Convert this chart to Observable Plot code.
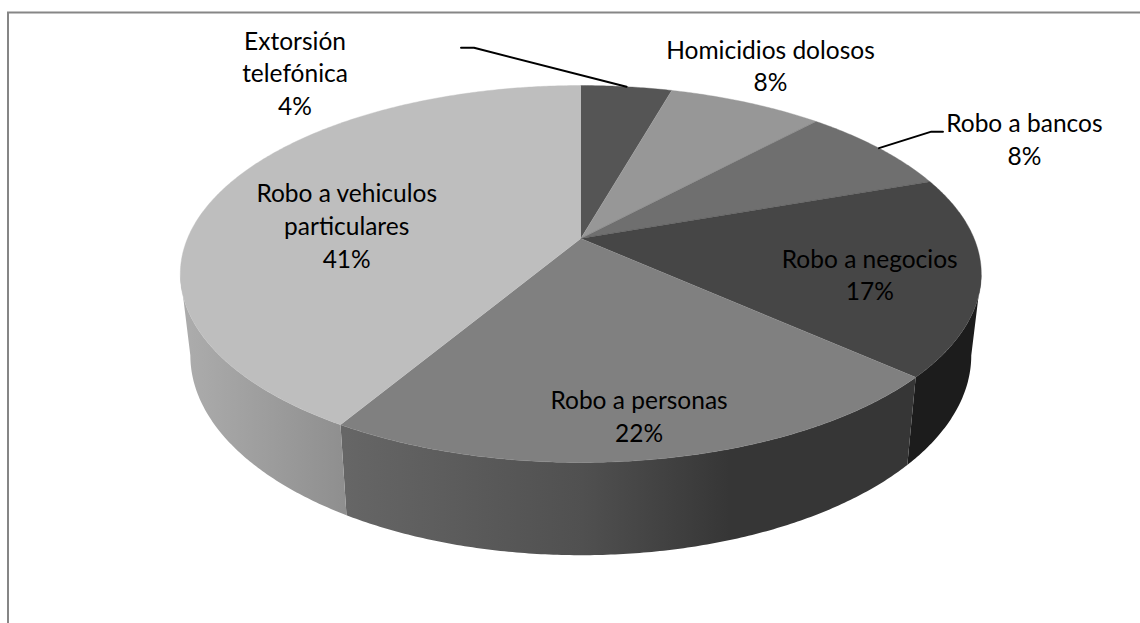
<!DOCTYPE html>
<html><head><meta charset="utf-8">
<script src="https://cdn.jsdelivr.net/npm/d3@7"></script>
<script src="https://cdn.jsdelivr.net/npm/@observablehq/plot@0.6"></script>
<style>html,body{margin:0;padding:0;background:#fff}svg{display:block}</style>
</head><body><div id="chart"></div>
<script>
// Data
const categories = ["Extorsión\ntelefónica","Homicidios dolosos","Robo a bancos","Robo a negocios","Robo a personas","Robo a vehiculos\nparticulares"];
const values = [4.4, 7.5, 7.7, 17, 21.9, 41.4];
const percentLabels = ["4%","8%","8%","17%","22%","41%"];

// Styles
const topColors = ["#555555","#979797","#6f6f6f","#464646","#808080","#bebebe"];
const wallFills = [null,null,null,"#1c1c1c","url(#wallPersonas)","url(#wallVehiculos)"];
// Label centre, as a pixel offset from the point on the rim at the slice's middle
const labelOffsets = [[-331.5,-15],[24,-38],[145.4,-10],[-111.5,-1.6],[-14.4,-44],[127,32]];
// Leader-line elbow and end, relative to the label centre
const leaders = {0:[[179,-24],[166,-24]], 2:[[-93,-6.5],[-81.4,-6.5]]};

const W = 1140, H = 623;
// Perspective of the disc
const cx = 580.3, cy = 238, ax = 393.3, by = 181.8, k = 0.1883;
const project = (t, r = 1) => {
  const u = r*Math.sin(t), v = r*Math.cos(t), w = 1 + k*v;
  return {x: cx + ax*u/w, y: cy - by*v/w};
};
const lower = p => ({x: cx + 0.975*(p.x-cx), y: 1.06*p.y + 65});
const arc = (a, b) => {
  const n = Math.max(2, Math.ceil(Math.abs(b-a)/(Math.PI/360)));
  return d3.range(n+1).map(i => project(a + (b-a)*i/n));
};
const arcs = d3.pie().sort(null)(values);
const tan = Math.PI/2 + Math.asin(k);
const vis0 = tan, vis1 = 2*Math.PI - tan;

const tops = arcs.map(a => [{x:cx,y:cy}, ...arc(a.startAngle,a.endAngle)]);
const walls = arcs.map(a => {
  const s = Math.max(a.startAngle,vis0), e = Math.min(a.endAngle,vis1);
  if (e <= s) return null;
  const t = arc(s,e);
  return [...t, ...t.map(lower).reverse()];
});
const rows = arcs.map((a,i) => {
  const p = project((a.startAngle+a.endAngle)/2);
  return {rim:p, x:p.x+labelOffsets[i][0], y:p.y+labelOffsets[i][1],
          text:categories[i]+"\n"+percentLabels[i], i};
});

const gradient = (id, stops, x1, x2) => () => {
  const g = d3.create("svg:linearGradient").attr("id",id)
    .attr("gradientUnits","userSpaceOnUse")
    .attr("x1",x1).attr("x2",x2).attr("y1",0).attr("y2",0);
  stops.forEach(([o,c]) => g.append("stop").attr("offset",o).attr("stop-color",c));
  return g.node();
};

const chart = Plot.plot({
  width: W, height: H, margin: 0,
  x: {domain:[0,W], range:[0,W], axis:null},
  y: {domain:[0,H], range:[0,H], axis:null},
  style: {background:"#fff"},
  marks: [
    gradient("wallPersonas",[[0,"#666666"],[0.42,"#505050"],[0.68,"#363636"],[1,"#363636"]],345,910),
    gradient("wallVehiculos",[[0,"#ababab"],[1,"#8e8e8e"]],190,348),
    Plot.ruleX([7.5],{y1:[12],y2:[H],stroke:"#868686",strokeWidth:2}),
    Plot.ruleY([12],{x1:[7],x2:[W],stroke:"#868686",strokeWidth:2}),
    ...walls.flatMap((w,i) => w ? [Plot.line(w,{x:"x",y:"y",fill:wallFills[i],stroke:"none"})] : []),
    ...tops.map((t,i) => Plot.line(t,{x:"x",y:"y",fill:topColors[i],stroke:topColors[i],strokeWidth:0.4})),
    ...Object.entries(leaders).map(([i,[a,b]]) => {
      const r = rows[+i];
      return Plot.line([r.rim,{x:r.x+a[0],y:r.y+a[1]},{x:r.x+b[0],y:r.y+b[1]}],
        {x:"x",y:"y",stroke:"#000",strokeWidth:2});
    }),
    Plot.text(rows,{x:"x",y:"y",text:"text",textAnchor:"middle",lineAnchor:"middle",
      fontFamily:"Lato",fontSize:24.5,lineHeight:1.33,fill:"#000"})
  ]
});
document.getElementById("chart").append(chart);
</script></body></html>
